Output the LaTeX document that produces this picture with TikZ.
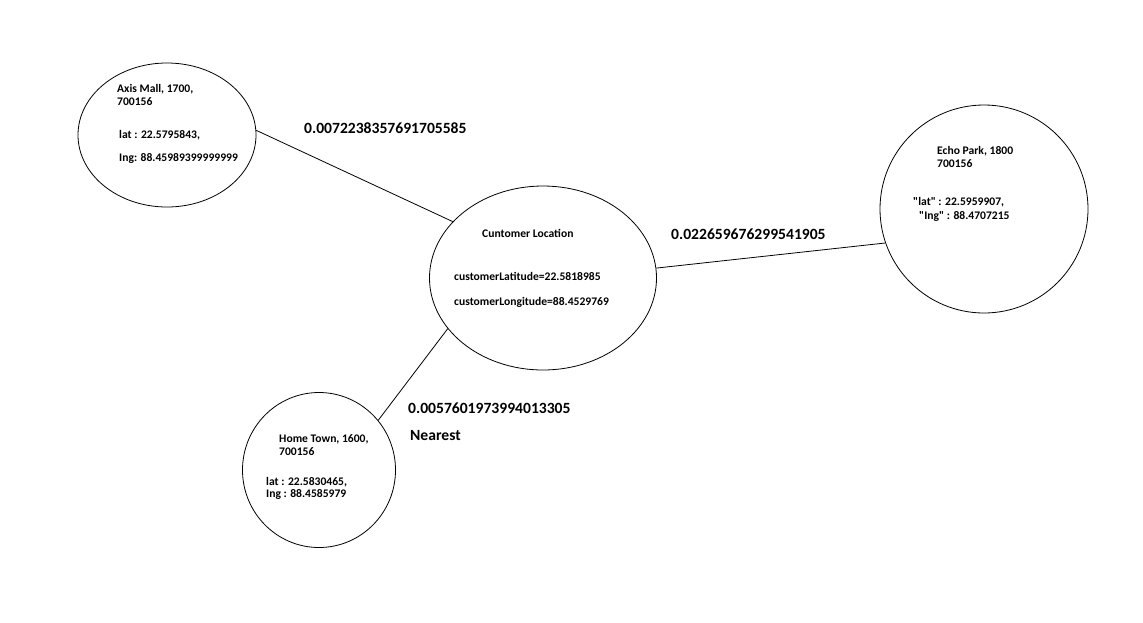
\documentclass[tikz,border=0pt]{standalone}
\usepackage{fontspec}
\setmainfont{Carlito}
\usetikzlibrary{shapes.geometric,positioning}

\begin{document}
\begin{tikzpicture}[
x=1pt,y=-1pt,
place/.style={
	ellipse,
	draw,
	line width=0.8pt,
	inner sep=0pt
},
info/.style={
	anchor=west,
	align=left,
	inner sep=0pt,
	font=\fontsize{11.6}{13}\selectfont\bfseries
},
dist/.style={
	anchor=west,
	inner sep=0pt,
	font=\fontsize{15.6}{18}\selectfont\bfseries
},
link/.style={
	line width=0.8pt
}
]
\useasboundingbox (0,0) rectangle (1143,622);

\node[place,minimum width=178pt,minimum height=144pt] (axis) at (167,135) {};
\node[place,minimum width=208pt,minimum height=208pt] (echo) at (984,209) {};
\node[place,minimum width=227pt,minimum height=184pt] (cust) at (543,278) {};
\node[place,minimum width=153pt,minimum height=155pt] (home) at (319,470) {};

% texts inside the places
\node[info] (axisname) at (117,95) {Axis Mall, 1700,\\700156};
\node[info] (axislat) at (119,135) {lat : 22.5795843,};
\node[info] (axislng) at (119,158) {Ing: 88.45989399999999};

\node[info] (echoname) at (937,157) {Echo Park, 1800\\700156};
\node[info] (echolat) at (913,202) {\textquotedbl lat\textquotedbl{} : 22.5959907,};
\node[info] (echolng) at (919,216) {\textquotedbl Ing\textquotedbl{} : 88.4707215};

\node[info] (custname) at (482,233) {Cuntomer Location};
\node[info] (custlat) at (454,276) {customerLatitude=22.5818985};
\node[info] (custlng) at (454,302) {customerLongitude=88.4529769};

\node[info] (homename) at (279,445) {Home Town, 1600,\\700156};
\node[info] (homelat) at (266,482) {lat : 22.5830465,};
\node[info] (homelng) at (266,494) {Ing : 88.4585979};

% distances
\node[dist] (daxis) at (304,128) {0.0072238357691705585};
\node[dist] (decho) at (671,234) {0.022659676299541905};
\node[dist] (dhome) at (408,408) {0.0057601973994013305};
\node[dist] (nearest) at (410,435) {Nearest};

\draw[link] (axis.3) -- (cust.148);
\draw[link] (cust.5) -- (echo.199);
\draw[link] (cust.208) -- (home.40);
\end{tikzpicture}
\end{document}
